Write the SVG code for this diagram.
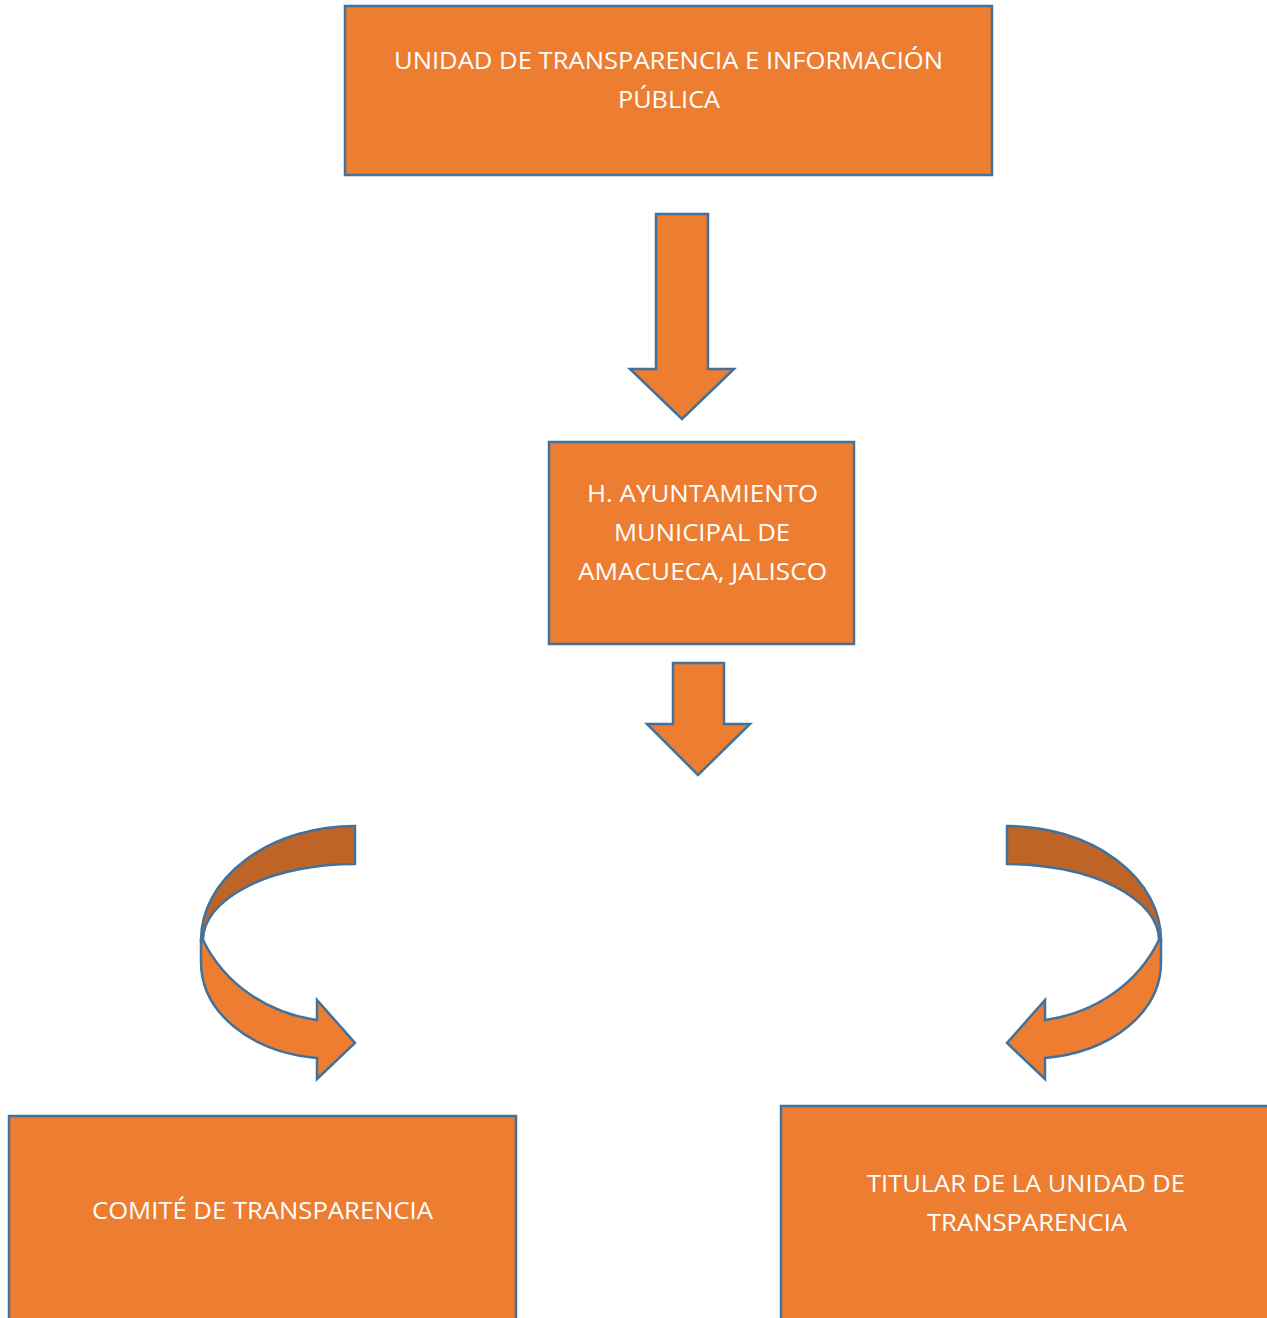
<svg xmlns="http://www.w3.org/2000/svg" width="1267" height="1318" viewBox="0 0 1267 1318">
<style>
.box{fill:#ED7D31;stroke:#41719C;stroke-width:2.5}
.arr{fill:#ED7D31;stroke:#41719C;stroke-width:2.5;stroke-linejoin:miter}
.dark{fill:#BE6427;stroke:#41719C;stroke-width:2.5}
.t{fill:#FFFFFF;font-family:"Open Sans","Noto Sans",sans-serif;font-size:24px;text-anchor:middle}
</style>
<rect width="1267" height="1318" fill="#FFFFFF"/>
<g id="node-unidad">
<rect class="box" x="345" y="6" width="647" height="169"/>
<text class="t" x="668.5" y="69" textLength="549" lengthAdjust="spacingAndGlyphs">UNIDAD DE TRANSPARENCIA E INFORMACIÓN</text>
<text class="t" x="669" y="108" textLength="102" lengthAdjust="spacingAndGlyphs">PÚBLICA</text>
</g>
<g id="node-ayuntamiento">
<rect class="box" x="549" y="442" width="305" height="202"/>
<text class="t" x="702.5" y="502" textLength="231" lengthAdjust="spacingAndGlyphs">H. AYUNTAMIENTO</text>
<text class="t" x="702" y="541" textLength="176" lengthAdjust="spacingAndGlyphs">MUNICIPAL DE</text>
<text class="t" x="702.5" y="580" textLength="249" lengthAdjust="spacingAndGlyphs">AMACUECA, JALISCO</text>
</g>
<g id="node-comite">
<rect class="box" x="9" y="1116" width="507" height="220"/>
<text class="t" x="262.5" y="1219" textLength="341" lengthAdjust="spacingAndGlyphs">COMITÉ DE TRANSPARENCIA</text>
</g>
<g id="node-titular">
<rect class="box" x="781" y="1106" width="500" height="230"/>
<text class="t" x="1026" y="1192" textLength="318" lengthAdjust="spacingAndGlyphs">TITULAR DE LA UNIDAD DE</text>
<text class="t" x="1027" y="1231" textLength="200" lengthAdjust="spacingAndGlyphs">TRANSPARENCIA</text>
</g>
<g id="connectors">
<path class="arr" d="M656 214 L708 214 L708 369 L734 369 L682 419 L630 369 L656 369 Z"/>
<path class="arr" d="M673 663 L724 663 L724 724 L750 724 L698 775 L647 724 L673 724 Z"/>
<g id="curve-left">
<path class="arr" d="M203 940 C225 985 268 1013 317 1020 L317 1000 L355 1043 L317 1079 L317 1058 C250 1052 201 1012 201 962 L201 940 Z"/>
<path class="dark" d="M355 826 A154 114 0 0 0 201 940 L203 940 A152 76 0 0 1 355 864 Z"/>
</g>
<g id="curve-right" transform="translate(1362,0) scale(-1,1)">
<path class="arr" d="M203 940 C225 985 268 1013 317 1020 L317 1000 L355 1043 L317 1079 L317 1058 C250 1052 201 1012 201 962 L201 940 Z"/>
<path class="dark" d="M355 826 A154 114 0 0 0 201 940 L203 940 A152 76 0 0 1 355 864 Z"/>
</g>
</g>
</svg>
